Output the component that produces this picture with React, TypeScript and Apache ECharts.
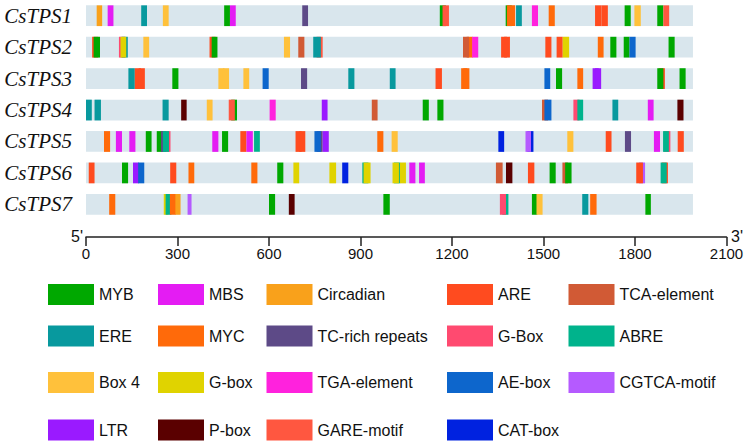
import React, { useEffect, useRef } from "react";
import * as echarts from "echarts";

// ---------- data ----------
const genes = ["CsTPS1", "CsTPS2", "CsTPS3", "CsTPS4", "CsTPS5", "CsTPS6", "CsTPS7"];
const promoterLength = [1990, 1990, 1990, 1990, 1990, 1990, 1990];
const axisMax = 2100;
const axisStep = 300;

const elementTypes = [
  "MYB", "MBS", "Circadian", "ARE", "TCA-element",
  "ERE", "MYC", "TC-rich repeats", "G-Box", "ABRE",
  "Box 4", "G-box", "TGA-element", "AE-box", "CGTCA-motif",
  "LTR", "P-box", "GARE-motif", "CAT-box",
];
const elementColors = [
  "#00a800", "#e41cf3", "#f9a11b", "#ff4b1f", "#d15a35",
  "#08999e", "#ff6a0a", "#5d4a87", "#ff4a70", "#00b38c",
  "#ffc13b", "#e0d300", "#ff22dd", "#0d66cc", "#b55aff",
  "#9a1aff", "#5a0000", "#ff5740", "#0022e0",
];

type Mark = [string, number, number];

const tps1: Mark[] = [
  ["Circadian", 35, 53], ["MBS", 71, 90], ["ERE", 181, 200], ["Box 4", 252, 271],
  ["MYB", 453, 472], ["MBS", 472, 491], ["TC-rich repeats", 709, 728],
  ["MYB", 1160, 1180], ["GARE-motif", 1169, 1190], ["MYB", 1376, 1396], ["MYC", 1380, 1407],
  ["ERE", 1410, 1429], ["TGA-element", 1462, 1482], ["MYC", 1517, 1537],
  ["ARE", 1669, 1690], ["ARE", 1690, 1711], ["MYB", 1766, 1786], ["Box 4", 1798, 1819],
  ["MYB", 1873, 1893], ["GARE-motif", 1893, 1912],
];
const tps2: Mark[] = [
  ["ARE", 20, 40], ["MYB", 25, 46], ["G-Box", 108, 128], ["ERE", 117, 137], ["G-box", 113, 132],
  ["Box 4", 188, 207], ["ARE", 405, 425], ["MYB", 412, 431], ["Box 4", 649, 669],
  ["TCA-element", 696, 716], ["GARE-motif", 756, 776], ["ERE", 745, 770],
  ["MYC", 1248, 1268], ["TCA-element", 1236, 1256], ["TGA-element", 1266, 1286],
  ["ARE", 1361, 1380], ["ARE", 1371, 1390], ["ARE", 1506, 1526], ["ARE", 1543, 1563],
  ["G-box", 1563, 1584], ["MYC", 1678, 1697], ["MYB", 1719, 1739], ["MYB", 1763, 1782],
  ["AE-box", 1782, 1802], ["MYB", 1910, 1930],
];
const tps3: Mark[] = [
  ["ERE", 139, 160], ["ARE", 160, 180], ["ARE", 173, 193], ["MYB", 283, 303],
  ["Box 4", 434, 454], ["Box 4", 449, 469], ["Box 4", 516, 535], ["AE-box", 579, 599],
  ["TC-rich repeats", 705, 725], ["ERE", 860, 880], ["ERE", 996, 1015], ["ARE", 1146, 1167],
  ["MYC", 1230, 1250], ["MYC", 1237, 1257], ["AE-box", 1503, 1522], ["MYB", 1541, 1561],
  ["MYC", 1611, 1630], ["LTR", 1661, 1681], ["LTR", 1669, 1689],
  ["ARE", 1878, 1898], ["MYB", 1873, 1893], ["MYB", 1946, 1966],
];
const tps4: Mark[] = [
  ["ERE", 0, 19], ["ERE", 28, 49], ["ERE", 251, 271], ["P-box", 312, 330], ["Box 4", 396, 415],
  ["MYB", 476, 495], ["GARE-motif", 468, 488], ["TGA-element", 602, 622], ["LTR", 773, 792],
  ["TCA-element", 937, 956], ["MYB", 1104, 1124], ["MYB", 1152, 1172],
  ["TCA-element", 1495, 1515], ["AE-box", 1503, 1526], ["G-Box", 1598, 1618], ["ABRE", 1611, 1630],
  ["ERE", 1726, 1745], ["MBS", 1842, 1861], ["P-box", 1939, 1959],
];
const tps5: Mark[] = [
  ["MYC", 59, 79], ["MBS", 98, 118], ["MBS", 142, 162], ["MYB", 196, 215],
  ["G-Box", 257, 277], ["MYB", 232, 252], ["TC-rich repeats", 246, 262], ["ABRE", 252, 272],
  ["MBS", 414, 434], ["MYB", 446, 466], ["ARE", 506, 526], ["MBS", 526, 547], ["ABRE", 551, 570],
  ["ARE", 687, 707], ["ARE", 699, 719], ["TC-rich repeats", 756, 776], ["AE-box", 749, 770],
  ["LTR", 776, 796], ["MYC", 955, 975], ["Box 4", 1002, 1022], ["CAT-box", 1352, 1371],
  ["CAT-box", 1447, 1467], ["CGTCA-motif", 1441, 1459], ["Box 4", 1578, 1598], ["ARE", 1704, 1723],
  ["TC-rich repeats", 1767, 1787], ["MBS", 1862, 1882], ["G-Box", 1895, 1916], ["ABRE", 1892, 1911],
  ["ARE", 1940, 1960],
];
const tps6: Mark[] = [
  ["ARE", 9, 28], ["MYB", 118, 138], ["LTR", 154, 174], ["AE-box", 171, 191], ["ARE", 276, 296],
  ["MYC", 336, 355], ["MYC", 542, 562], ["MYB", 627, 647], ["G-box", 680, 699], ["G-box", 798, 820],
  ["CAT-box", 840, 860], ["ABRE", 906, 926], ["G-box", 910, 933], ["ABRE", 1010, 1030],
  ["G-box", 1005, 1026], ["G-box", 1029, 1049], ["MBS", 1060, 1080], ["MBS", 1092, 1111],
  ["TCA-element", 1344, 1366], ["P-box", 1377, 1398], ["ARE", 1449, 1470], ["MYB", 1520, 1540],
  ["TCA-element", 1562, 1580], ["MYB", 1571, 1592], ["CGTCA-motif", 1813, 1833], ["ARE", 1804, 1826],
  ["ARE", 1888, 1908], ["ABRE", 1884, 1904],
];
const tps7: Mark[] = [
  ["MYC", 76, 96], ["G-box", 255, 270], ["ABRE", 261, 280], ["MYC", 275, 295], ["Circadian", 293, 310],
  ["CGTCA-motif", 333, 346], ["MYB", 600, 620], ["P-box", 665, 684], ["MYB", 975, 996],
  ["ABRE", 1365, 1385], ["G-Box", 1357, 1377], ["MYB", 1462, 1480], ["Box 4", 1477, 1497],
  ["ERE", 1627, 1647], ["MYC", 1653, 1674], ["MYB", 1834, 1852],
];
const geneElements = [tps1, tps2, tps3, tps4, tps5, tps6, tps7];

// ---------- layout ----------
const legendColX = [48, 158, 266.5, 447, 568.5];
const legendRowY = [294.5, 336, 382.5, 430];
const sansFont = '"Liberation Sans", Arial, Helvetica, sans-serif';

function buildOption() {
  // order index across all marks controls overlap (later drawn on top)
  let order = 0;
  const byType: Record<string, number[][]> = {};
  elementTypes.forEach((t) => (byType[t] = []));
  geneElements.forEach((marks, row) => {
    marks.forEach(([t, s, e]) => {
      byType[t].push([s, e, row, order++]);
    });
  });

  const rectItem = (color: string) => (params: any, api: any) => {
    const s = api.value(0);
    const e = api.value(1);
    const row = api.value(2);
    const p0 = api.coord([s, row]);
    const p1 = api.coord([e, row]);
    const h = api.size([0, 1])[1] * 0.66;
    return {
      type: "rect",
      shape: { x: p0[0], y: p0[1] - h / 2, width: p1[0] - p0[0], height: h },
      style: { fill: color },
      z2: 10 + (api.value(3) || 0),
    };
  };

  const series: any[] = [
    {
      name: "promoter",
      type: "custom",
      silent: true,
      z: 1,
      encode: { x: [0, 1], y: 2 },
      data: genes.map((g, i) => [0, promoterLength[i], i, 0]),
      renderItem: rectItem("#d9e6ed"),
    },
    ...elementTypes.map((t, i) => ({
      name: t,
      type: "custom",
      z: 2,
      silent: true,
      encode: { x: [0, 1], y: 2 },
      itemStyle: { color: elementColors[i] },
      data: byType[t],
      renderItem: rectItem(elementColors[i]),
    })),
  ];

  const legend = elementTypes.map((t, i) => ({
    data: [t],
    left: legendColX[i % 5],
    top: legendRowY[Math.floor(i / 5)] - 10.5,
    icon: "rect",
    itemWidth: 46,
    itemHeight: 21,
    padding: 0,
    selectedMode: false,
    textStyle: { fontSize: 16, fontFamily: sansFont, color: "#111" },
  }));

  return {
    animation: false,
    backgroundColor: "#ffffff",
    grid: { left: 86, top: -3.2, width: 640.5, height: 223.3, containLabel: false },
    xAxis: {
      type: "value",
      min: 0,
      max: axisMax,
      interval: axisStep,
      offset: 17,
      axisLine: { show: true, lineStyle: { color: "#222", width: 1.5 } },
      axisTick: { show: true, length: 9, lineStyle: { color: "#222", width: 1.5 } },
      splitLine: { show: false },
      axisLabel: {
        fontSize: 15,
        fontFamily: sansFont,
        color: "#111",
        margin: 9,
        formatter: (v: number) => String(v),
      },
    },
    yAxis: {
      type: "category",
      data: genes,
      inverse: true,
      axisLine: { show: false },
      axisTick: { show: false },
      splitLine: { show: false },
      axisLabel: {
        fontFamily: '"Liberation Serif", "Times New Roman", serif',
        fontStyle: "italic",
        fontSize: 21,
        color: "#111",
        margin: 14,
      },
    },
    legend,
    graphic: [
      {
        type: "text",
        x: 83,
        y: 236,
        style: { text: "5'", font: `16px ${sansFont}`, fill: "#111", align: "right", verticalAlign: "middle" },
      },
      {
        type: "text",
        x: 731,
        y: 236,
        style: { text: "3'", font: `16px ${sansFont}`, fill: "#111", align: "left", verticalAlign: "middle" },
      },
    ],
    series,
  };
}

export default function App() {
  const ref = useRef<HTMLDivElement>(null);
  useEffect(() => {
    if (!ref.current) return;
    const chart = echarts.init(ref.current, null, { renderer: "svg" });
    chart.setOption(buildOption() as any);
    return () => chart.dispose();
  }, []);
  return (
    <div
      ref={ref}
      style={{ position: "fixed", left: 0, top: 0, width: 750, height: 444, background: "#fff" }}
    />
  );
}
